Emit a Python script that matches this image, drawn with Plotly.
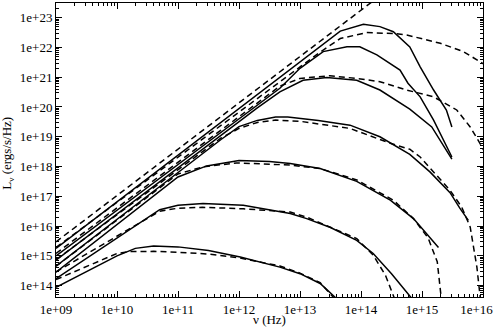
import plotly.graph_objects as go

# log10(frequency in Hz) and log10(L_nu in ergs/s/Hz)
s1_lx = [9, 10, 10.3, 10.6, 11, 11.5, 12.02, 12.67, 13.0, 13.33, 13.6, 13.7]
s1_ly = [13.94, 15.0, 15.25, 15.33, 15.3, 15.18, 14.96, 14.62, 14.4, 14.07, 13.56, 13.3]
d1_lx = [9, 10, 10.2, 10.6, 11, 11.5, 12, 12.67, 13.0, 13.33, 13.55, 13.65]
d1_ly = [14.2, 15.08, 15.14, 15.15, 15.12, 15.06, 14.93, 14.66, 14.42, 14.1, 13.6, 13.3]

s2_lx = [9, 10.7, 11.0, 11.41, 12.07, 12.84, 13.11, 13.5, 13.93, 14.2, 14.5, 14.83, 14.9]
s2_ly = [14.23, 16.55, 16.7, 16.76, 16.7, 16.42, 16.25, 15.95, 15.52, 15.08, 14.4, 13.56, 13.4]
d2_lx = [9, 10.7, 11.0, 11.4, 12.07, 12.84, 13.11, 13.5, 13.93, 14.2, 14.4, 14.55, 14.6]
d2_ly = [14.46, 16.5, 16.6, 16.63, 16.58, 16.47, 16.3, 15.95, 15.58, 15.02, 14.35, 13.56, 13.4]

s3_lx = [9, 11.0, 11.47, 12.0, 12.5, 12.84, 13.33, 13.93, 14.48, 14.86, 15.27]
s3_ly = [14.45, 17.65, 18.02, 18.2, 18.17, 18.1, 17.93, 17.5, 16.87, 16.25, 15.28]
d3_lx = [9, 11.0, 11.41, 11.96, 12.84, 13.33, 13.93, 14.53, 14.86, 15.1, 15.25, 15.32]
d3_ly = [14.65, 17.75, 17.99, 18.12, 18.05, 17.93, 17.55, 16.87, 16.25, 15.6, 14.8, 13.5]

s4_lx = [9, 11.7, 12.0, 12.3, 12.6, 12.8, 13.3, 13.82, 14.31, 14.8, 15.13, 15.46, 15.62, 15.76]
s4_ly = [14.65, 18.9, 19.34, 19.55, 19.66, 19.66, 19.55, 19.39, 19.0, 18.41, 17.82, 17.12, 16.6, 16.19]
d4_lx = [9, 11.7, 12.0, 12.3, 12.6, 13.0, 13.82, 14.48, 14.8, 14.97, 15.46, 15.65, 15.79, 15.9, 15.96]
d4_ly = [14.87, 18.95, 19.28, 19.48, 19.56, 19.52, 19.28, 18.78, 18.58, 18.32, 17.2, 16.64, 15.97, 14.62, 13.5]

s5_lx = [9, 12.3, 12.67, 13.05, 13.44, 13.93, 14.31, 14.64, 14.8, 15.16, 15.4, 15.49]
s5_ly = [14.85, 19.97, 20.51, 20.9, 20.99, 20.9, 20.57, 20.12, 19.93, 19.33, 18.55, 18.25]
d5_lx = [9, 12.67, 13.0, 13.49, 13.93, 14.31, 14.75, 15.19, 15.57, 15.79, 15.95, 16.05]
d5_ly = [15.08, 20.7, 20.96, 21.05, 20.96, 20.85, 20.57, 20.34, 19.9, 19.33, 18.78, 18.4]

s6_lx = [9, 12.67, 13.0, 13.38, 13.77, 13.98, 14.26, 14.64, 14.77, 14.97, 15.19, 15.4, 15.49]
s6_ly = [15.0, 20.63, 21.3, 21.86, 22.02, 22.02, 21.75, 21.24, 20.8, 20.34, 19.56, 18.66, 18.32]
d6_lx = [9, 13.3, 13.66, 14.09, 14.53, 14.75, 15.3, 15.68, 15.95, 16.05]
d6_ly = [15.28, 21.8, 22.3, 22.5, 22.47, 22.42, 22.14, 21.86, 21.52, 21.4]

s7_lx = [9, 12.67, 13.3, 13.66, 14.04, 14.31, 14.53, 14.8, 14.97, 15.19, 15.4, 15.49]
s7_ly = [15.25, 21.02, 22.0, 22.55, 22.78, 22.7, 22.53, 22.02, 21.35, 20.57, 19.9, 19.33]
d7_lx = [9, 14.5]
d7_ly = [15.47, 24.03]

x_tick_exp = [9, 10, 11, 12, 13, 14, 15, 16]
x_tick_text = ["1e+09", "1e+10", "1e+11", "1e+12", "1e+13", "1e+14", "1e+15",
               "1e+16\u00a0\u00a0\u00a0\u00a0"]
y_tick_exp = [14, 15, 16, 17, 18, 19, 20, 21, 22, 23]
y_tick_text = ["1e+14", "1e+15", "1e+16", "1e+17", "1e+18", "1e+19", "1e+20", "1e+21", "1e+22", "1e+23"]

solid = [(s1_lx, s1_ly), (s2_lx, s2_ly), (s3_lx, s3_ly), (s4_lx, s4_ly),
         (s5_lx, s5_ly), (s6_lx, s6_ly), (s7_lx, s7_ly)]
dashed = [(d1_lx, d1_ly), (d2_lx, d2_ly), (d3_lx, d3_ly), (d4_lx, d4_ly),
          (d5_lx, d5_ly), (d6_lx, d6_ly), (d7_lx, d7_ly)]


def p10(vals):
    return [10.0 ** v for v in vals]


fig = go.Figure()
for lx, ly in dashed:
    fig.add_trace(go.Scatter(x=p10(lx), y=p10(ly), mode="lines",
                             line=dict(color="black", width=1.5, dash="6px,4px"),
                             showlegend=False, hoverinfo="skip"))
for lx, ly in solid:
    fig.add_trace(go.Scatter(x=p10(lx), y=p10(ly), mode="lines",
                             line=dict(color="black", width=1.5),
                             showlegend=False, hoverinfo="skip"))

x_minor = [m * 10.0 ** e for e in range(9, 16) for m in range(2, 10)]
y_minor = [m * 10.0 ** e for e in range(13, 24) for m in range(2, 10)]

font = dict(family="Liberation Serif, Times New Roman, serif", size=13, color="black")
fig.update_layout(
    width=497, height=328,
    margin=dict(l=56, r=14, t=3, b=31, autoexpand=False),
    paper_bgcolor="white", plot_bgcolor="white",
    font=font,
    xaxis=dict(type="log", range=[8.9999, 16.0001], automargin=False,
               tickvals=p10(x_tick_exp), ticktext=x_tick_text, ticklabeloverflow="allow",
               ticks="inside", ticklen=6, tickwidth=1, tickcolor="black",
               showline=True, linecolor="black", linewidth=1, mirror="ticks",
               showgrid=False, zeroline=False,
               minor=dict(tickvals=x_minor, ticks="inside", ticklen=3, tickcolor="black", showgrid=False)),
    yaxis=dict(type="log", range=[13.616, 23.494], automargin=False,
               tickvals=p10(y_tick_exp), ticktext=y_tick_text, ticklabeloverflow="allow",
               ticks="inside", ticklen=6, tickwidth=1, tickcolor="black",
               showline=True, linecolor="black", linewidth=1, mirror="ticks",
               showgrid=False, zeroline=False,
               minor=dict(tickvals=y_minor, ticks="inside", ticklen=3, tickcolor="black", showgrid=False)),
    annotations=[
        dict(text="ν (Hz)", xref="paper", yref="paper", x=0.5, y=-0.045,
             xanchor="center", yanchor="top", showarrow=False, font=font),
        dict(text="L<sub>ν</sub> (ergs/s/Hz)", xref="paper", yref="paper", x=-0.113, y=0.49,
             xanchor="center", yanchor="middle", textangle=-90, showarrow=False, font=font),
    ],
)
fig.write_html("out.html", config={"displayModeBar": False, "staticPlot": True},
               post_script="document.body.style.margin='0px';document.body.style.overflow='hidden';")
